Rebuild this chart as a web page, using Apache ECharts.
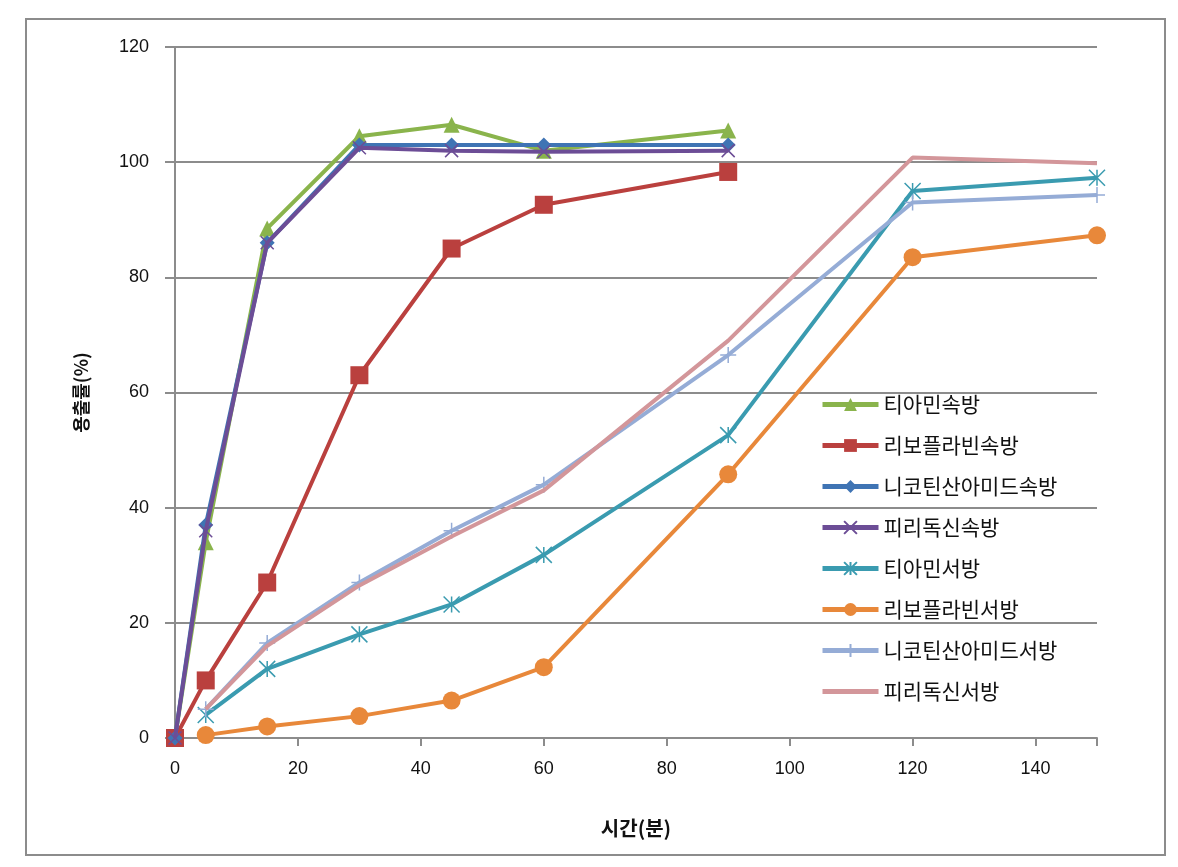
<!DOCTYPE html>
<html>
<head>
<meta charset="utf-8">
<script src="https://cdn.jsdelivr.net/npm/echarts@6/dist/echarts.min.js"></script>
<style>
html,body{margin:0;padding:0;background:#fff;}
#chart{width:1178px;height:867px;}
</style>
</head>
<body>
<div id="chart"></div>
<script>
// Time points (min)
const times = [0, 5, 15, 30, 45, 60, 90, 120, 150];
const xTicks = [0, 20, 40, 60, 80, 100, 120, 140];
const yTicks = [0, 20, 40, 60, 80, 100, 120];

const seriesNames = ['티아민속방','리보플라빈속방','니코틴산아미드속방','피리독신속방','티아민서방','리보플라빈서방','니코틴산아미드서방','피리독신서방'];

const thiamineIR    = [0, 34, 88.5, 104.5, 106.5, 102, 105.5, null, null];
const riboflavinIR  = [0, 10, 27, 63, 85, 92.6, 98.3, null, null];
const nicotinamideIR= [0, 37, 86, 103, 103, 103, 103, null, null];
const pyridoxineIR  = [0, 36, 86, 102.5, 102, 101.8, 102, null, null];
const thiamineSR    = [null, 4, 12, 18, 23.2, 31.8, 52.6, 95, 97.3];
const riboflavinSR  = [null, 0.5, 2, 3.8, 6.5, 12.3, 45.8, 83.5, 87.3];
const nicotinamideSR= [null, 5, 16.5, 27, 36, 44, 66.5, 93, 94.3];
const pyridoxineSR  = [null, 5, 16, 26.5, 35, 43, 69, 100.8, 99.8];

const allValues = [thiamineIR, riboflavinIR, nicotinamideIR, pyridoxineIR, thiamineSR, riboflavinSR, nicotinamideSR, pyridoxineSR];

const colors = ['#8ab44c','#ba403e','#3f74b4','#6c4d96','#3a9bb0','#e8883a','#95acd6','#d3969a'];
const symbols = [
  'triangle',
  'rect',
  'diamond',
  'path://M0,0L10,10M10,0L0,10',
  'path://M0,0L10,10M10,0L0,10M5,0L5,10',
  'circle',
  'path://M5,0L5,10M0,5L10,5',
  'none'
];
const symbolSizes = [16, 18, 15, 13, 16, 18, 16, 0];

function pairs(vals){
  const out = [];
  vals.forEach((v,i)=>{ if(v!==null) out.push([times[i], v]); });
  return out;
}

const series = seriesNames.map((name, i) => {
  const stroked = symbols[i].startsWith('path://');
  return {
    name: name,
    type: 'line',
    data: pairs(allValues[i]),
    symbol: symbols[i],
    symbolSize: symbolSizes[i],
    showSymbol: symbols[i] !== 'none',
    lineStyle: {color: colors[i], width: 4},
    itemStyle: stroked
      ? {color: 'rgba(0,0,0,0)', borderColor: colors[i], borderWidth: 1.5}
      : {color: colors[i], borderWidth: 0},
    emphasis: {disabled: true},
    animation: false,
    z: 2 + i
  };
});

const legendData = seriesNames.map((n, i) =>
  symbols[i] === 'none'
    ? {name: n, icon: 'path://M0,0L56,0L56,5L0,5Z', itemStyle: {color: colors[i]}}
    : {name: n});

const chart = echarts.init(document.getElementById('chart'));
const numFont = 'Liberation Sans, DejaVu Sans, sans-serif';
const korFont = 'Noto Sans CJK KR, sans-serif';

chart.setOption({
  backgroundColor: '#fff',
  animation: false,
  graphic: [{
    type: 'rect',
    shape: {x: 26, y: 19, width: 1139, height: 836},
    style: {fill: 'none', stroke: '#8c8c8c', lineWidth: 2},
    silent: true,
    z: -1
  }],
  grid: {left: 175, top: 47, right: 81, bottom: 129, containLabel: false},
  xAxis: {
    type: 'value',
    min: 0, max: 150, interval: 20,
    name: '시간(분)',
    nameLocation: 'middle',
    nameGap: 80,
    nameTextStyle: {fontFamily: korFont, fontSize: 20, fontWeight: 'bold', color: '#111'},
    axisLine: {show: true, lineStyle: {color: '#8c8c8c', width: 2}},
    axisTick: {show: true, length: 8, lineStyle: {color: '#8c8c8c', width: 2}},
    axisLabel: {
      fontFamily: numFont, fontSize: 18, color: '#111', margin: 22,
      formatter: v => xTicks.includes(v) ? String(v) : ''
    },
    splitLine: {show: false}
  },
  yAxis: {
    type: 'value',
    min: 0, max: 120, interval: 20,
    name: '용출률(%)',
    nameLocation: 'middle',
    nameGap: 85,
    nameRotate: 90,
    nameTextStyle: {fontFamily: korFont, fontSize: 18, fontWeight: 'bold', color: '#111'},
    axisLine: {show: true, lineStyle: {color: '#8c8c8c', width: 2}},
    axisTick: {show: true, inside: false, length: 10, lineStyle: {color: '#8c8c8c', width: 2}},
    axisLabel: {
      fontFamily: numFont, fontSize: 18, color: '#111', margin: 26,
      formatter: v => yTicks.includes(v) ? String(v) : ''
    },
    splitLine: {show: true, lineStyle: {color: '#8c8c8c', width: 2}}
  },
  legend: {
    orient: 'vertical',
    left: 815,
    top: 389,
    itemWidth: 56,
    itemHeight: 16,
    itemGap: 20,
    data: legendData,
    lineStyle: {width: 5},
    textStyle: {fontFamily: korFont, fontSize: 21, color: '#111'},
    selectedMode: false
  },
  series: series
});
</script>
</body>
</html>
